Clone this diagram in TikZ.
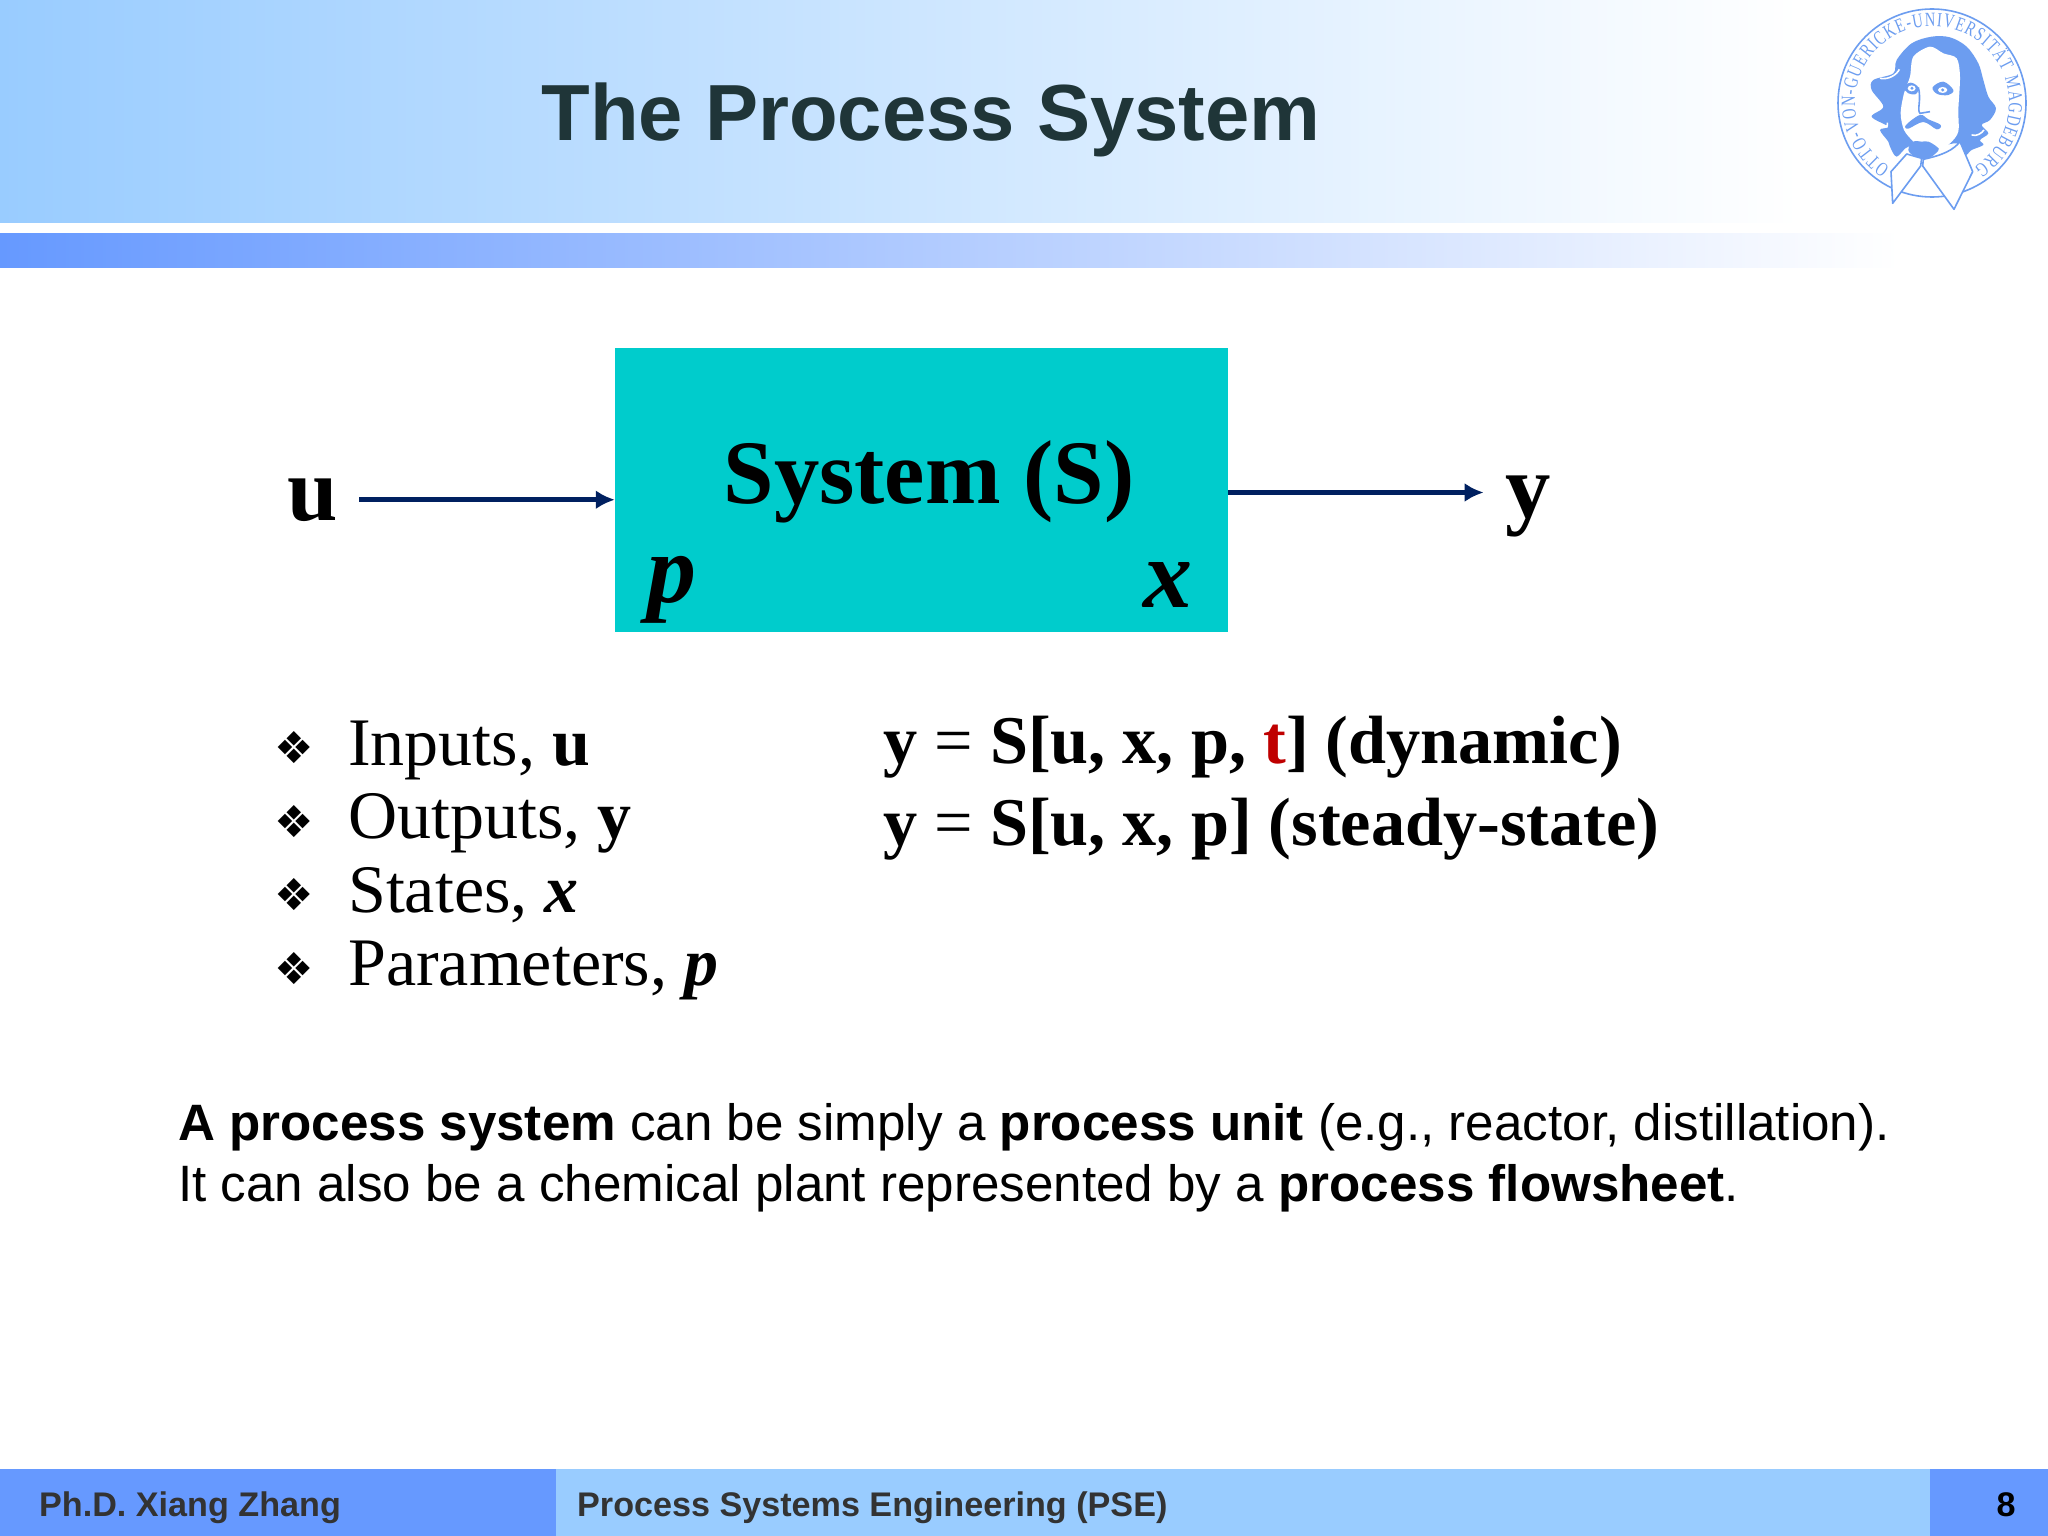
\documentclass[tikz,border=0pt]{standalone}
\usepackage{xcolor}
\usepackage{fontspec}
\setmainfont{Liberation Serif}
\setsansfont{Liberation Sans}
\newfontfamily\symfont{DejaVu Sans}
\newfontfamily\sealfont[FakeStretch=0.72]{Liberation Serif}
\usetikzlibrary{arrows.meta,decorations.text}
\definecolor{barblue}{HTML}{6699FF}
\definecolor{paleblue}{HTML}{99CCFF}
\definecolor{flownavy}{HTML}{002060}
\definecolor{sysfill}{HTML}{00CCCC}
\definecolor{titledark}{HTML}{1F3538}
\definecolor{footgray}{HTML}{333333}
\definecolor{logoblue}{HTML}{6C9DF0}
\newcommand{\px}[1]{\fontsize{#1}{#1}\selectfont}

\begin{document}
\begin{tikzpicture}[x=1pt,y=-1pt,>=Latex,
 bigsym/.style={font=\px{90.7}\bfseries,anchor=base},
 italsym/.style={font=\px{98}\bfseries\itshape,anchor=base},
 listitem/.style={font=\px{68},anchor=base west,inner sep=0pt},
 bulletmark/.style={font=\symfont\px{44},anchor=center,inner sep=0pt},
 equation/.style={font=\px{68.3}\bfseries,anchor=base west,inner sep=0pt},
 bodyline/.style={font=\sffamily\px{51.15},anchor=base west,inner sep=0pt},
 footlabel/.style={font=\sffamily\bfseries\px{34.15},text=footgray,anchor=base west,inner sep=0pt},
 flow/.style={-{Latex[length=19pt,width=19pt]},draw=flownavy,line width=5.5pt},
 logoline/.style={draw=logoblue,line width=1.6pt},
 logofill/.style={fill=logoblue,draw=none},
 collar/.style={fill=white,draw=logoblue,line width=1.6pt,line join=round}]
\useasboundingbox (0,0) rectangle (2048,1536);
\fill[white] (0,0) rectangle (2048,1536);
\shade[left color=paleblue,right color=white] (0,0) rectangle (1800,222);
\shade[left color=barblue,right color=white] (0,233) rectangle (1900,267);
\node[font=\sffamily\bfseries\px{79.6},text=titledark,anchor=base] (title) at (931,141) {The Process System};

\begin{scope}[shift={(1932,103)},y=1pt]
\draw[logoline] (0,0) circle (94);
\path[decorate,decoration={text along path,text align=fit to path,
  text={|\sealfont\px{20}\color{logoblue}|OTTO-VON-GUERICKE-UNIVERSITÄT MAGDEBURG}}]
  (237:77) arc[start angle=237,end angle=-57,radius=77];
\end{scope}
\begin{scope}[shift={(1780,0)},x=0.3333pt,y=-0.3333pt]
\fill[logofill] plot[smooth cycle,tension=0.55] coordinates {(455,110) (510,112) (560,140) (595,190) (610,240) (625,290) (648,325) (630,360) (605,375) (625,400) (600,420) (610,435) (575,450) (555,465) (530,430) (440,450) (385,440) (350,470) (330,440) (325,425) (300,390) (325,380) (275,350) (310,320) (275,270) (280,240) (340,220) (350,180) (395,130)};
\fill[white] plot[smooth cycle,tension=0.5] coordinates {(450,140) (490,160) (530,175) (540,230) (535,330) (535,395) (510,430) (470,455) (430,455) (400,425) (372,390) (362,340) (372,280) (390,230) (400,170)};
\draw[white,line width=1.6pt] (300,235) .. controls (325,240) and (350,225) .. (358,208);
\draw[white,line width=1.6pt] (305,375) .. controls (315,385) and (325,380) .. (322,368);
\draw[white,line width=1.6pt] (575,405) .. controls (590,410) and (605,400) .. (612,390);
\fill[logofill] plot[smooth cycle,tension=0.6] coordinates {(385,450) (400,425) (425,425) (445,425) (470,440) (475,452) (440,478) (405,470)};
\fill[logofill] plot[smooth cycle,tension=0.6] coordinates {(378,375) (420,345) (445,358) (482,375) (470,388) (430,366) (385,386)};
\fill[logofill] plot[smooth cycle,tension=0.6] coordinates {(372,262) (392,248) (415,262) (408,282) (385,280)};
\fill[white] (395,265) ellipse (12 and 9);
\fill[logofill] (396,265) circle (5);
\fill[logofill] plot[smooth cycle,tension=0.6] coordinates {(458,262) (490,245) (520,270) (505,285) (472,282)};
\fill[white] (488,270) ellipse (14 and 9);
\fill[logofill] (488,270) circle (5);
\draw[logoline] (415,262) .. controls (425,300) and (410,330) .. (420,340) -- (450,335);
\path[collar] (333,515) -- (338,610) -- (422,498) -- (425,475) -- (380,462) -- cycle;
\path[collar] (428,498) -- (522,628) -- (578,515) -- (540,425) .. controls (520,450) and (490,465) .. (430,478) -- cycle;
\end{scope}

\node[fill=sysfill,minimum width=613pt,minimum height=284pt,inner sep=0pt] (system) at (921.5,490) {};
\node[bigsym] (syslabel) at (929,503) {System (S)};
\node[italsym] (plabel) at (672,602) {p};
\node[italsym] (xlabel) at (1168,607) {x};
\node[bigsym,inner sep=21pt] (uin) at (313,520) {u};
\node[bigsym,inner sep=21.5pt,text height=70pt,text depth=21pt] (yout) at (1528,517) {y};
\draw[flow] (uin.east) -- (uin.east -| system.west);
\draw[flow] (yout.west -| system.east) -- (yout.west);

\node[bulletmark] (bulleta) at (294,748) {❖};
\node[bulletmark] (bulletb) at (294,821.5) {❖};
\node[bulletmark] (bulletc) at (294,895) {❖};
\node[bulletmark] (bulletd) at (294,968.5) {❖};
\node[listitem] (inputs) at (348,765) {Inputs, \textbf{u}};
\node[listitem] (outputs) at (348,838.5) {Outputs, \textbf{y}};
\node[listitem] (states) at (348,912) {States, \textbf{\textit{x}}};
\node[listitem] (params) at (348,985.5) {Parameters, \textbf{\textit{p}}};

\node[equation] (eqdyn) at (883,763.5) {y {\normalfont=} S[u, x, p, \textcolor{red!75!black}{t}] (dynamic)};
\node[equation] (eqsteady) at (883,845) {y {\normalfont=} S[u, x, p] (steady-state)};

\node[bodyline] (bodya) at (178,1140) {\textbf{A process system} can be simply a \textbf{process unit} (e.g., reactor, distillation).};
\node[bodyline] (bodyb) at (178,1201) {It can also be a chemical plant represented by a \textbf{process flowsheet}.};

\fill[barblue] (0,1469) rectangle (556,1536);
\fill[paleblue] (556,1469) rectangle (1930,1536);
\fill[barblue] (1930,1469) rectangle (2048,1536);
\node[footlabel] (author) at (39,1516) {Ph.D. Xiang Zhang};
\node[footlabel] (course) at (577,1516) {Process Systems Engineering (PSE)};
\node[footlabel,text=black,anchor=base] (pagenum) at (2006,1516) {8};
\end{tikzpicture}
\end{document}
